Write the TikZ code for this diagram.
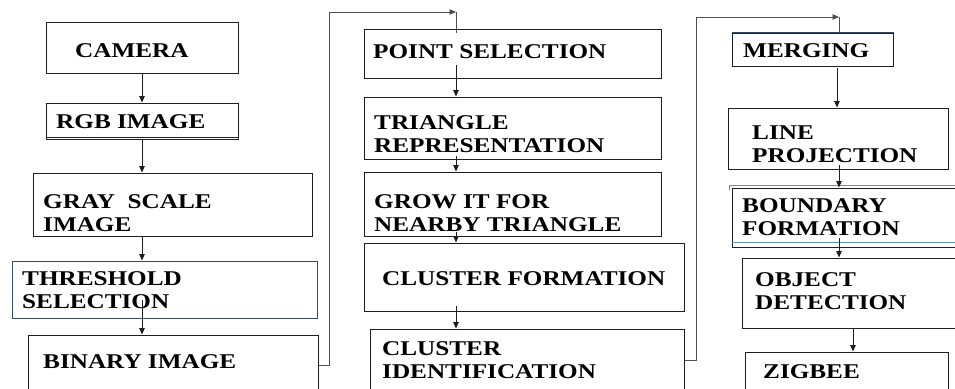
\documentclass[tikz,border=0pt]{standalone}
\usepackage{fontspec}
\setmainfont{Liberation Serif}[FakeStretch=1.2]
\usetikzlibrary{arrows.meta}
\definecolor{boxc}{RGB}{30,30,30}
\definecolor{loopc}{RGB}{80,80,80}
\definecolor{slate}{RGB}{55,75,105}
\definecolor{steel}{RGB}{100,140,190}
\tikzset{
  box/.style={draw=boxc, line width=1pt, rectangle, inner sep=0pt},
  lbl/.style={anchor=base west, inner sep=0pt, align=left, text=black,
              font=\fontsize{21}{23}\selectfont\bfseries},
  arr/.style={draw=boxc, line width=0.9pt, -{Triangle[length=6.5pt,width=5.5pt]}},
  loopline/.style={draw=loopc, line width=1pt},
}
\begin{document}
\begin{tikzpicture}[x=1pt,y=-1pt]
\useasboundingbox (0,0) rectangle (955,388);
% ---------- column 1 ----------
\node[box, minimum width=192pt, minimum height=51pt] (cam) at (142,47.5) {};
\node[box, minimum width=192pt, minimum height=36pt] (rgb) at (142,121) {};
\node[box, minimum width=279pt, minimum height=63pt] (gray) at (172.5,204.5) {};
\node[box, draw=slate, minimum width=305pt, minimum height=57pt] (thr) at (164.5,289.5) {};
\node[box, minimum width=290pt, minimum height=60pt] (bin) at (173,365) {};
\draw[boxc, line width=0.8pt] ([yshift=2.5pt]rgb.south west) -- ([yshift=2.5pt]rgb.south east);
\node[lbl] (tcam) at (75,57) {CAMERA};
\node[lbl] (trgb) at (56,128) {RGB IMAGE};
\node[lbl] (tgray) at (43,231) {GRAY\ \ SCALE\\IMAGE};
\node[lbl] (tthr) at (22,308) {THRESHOLD\\SELECTION};
\node[lbl] (tbin) at (43,368) {BINARY IMAGE};
\coordinate (a1) at (142,300);
\draw[arr] (cam.south) -- (rgb.north);
\draw[arr] (rgb.south) -- (rgb.south |- gray.north);
\draw[arr] (rgb.south |- gray.south) -- (rgb.south |- thr.north);
\draw[arr] (a1) -- (a1 |- bin.north);
% ---------- loop 1 ----------
\coordinate (k1) at (329,12);
\coordinate (k2) at (456,12);
\coordinate (k3) at (456,33);
\draw[loopline] (bin.east) -| (k1);
\draw[arr, draw=loopc] (k1) -- (k2);
\draw[loopline] (k2) -- (k3);
% ---------- column 2 ----------
\node[box, minimum width=297pt, minimum height=49pt] (pt) at (512.5,53.5) {};
\node[box, minimum width=297pt, minimum height=62pt] (tri) at (512.5,128) {};
\node[box, minimum width=297pt, minimum height=64pt] (grow) at (512.5,204) {};
\node[box, minimum width=320pt, minimum height=68pt] (cf) at (524,277) {};
\node[box, minimum width=314pt, minimum height=63pt] (ci) at (527,360.5) {};
\node[lbl] (tpt) at (373,58) {POINT SELECTION};
\node[lbl] (ttri) at (374,152) {TRIANGLE\\REPRESENTATION};
\node[lbl] (tgrow) at (374,231) {GROW IT FOR\\NEARBY TRIANGLE};
\node[lbl] (tcf) at (382,285) {CLUSTER FORMATION};
\node[lbl] (tci) at (382,378) {CLUSTER\\IDENTIFICATION};
\coordinate (b1) at (456,65);
\coordinate (b2) at (456,156);
\coordinate (b3) at (456,232);
\coordinate (b4) at (456,306);
\draw[arr] (b1) -- (b1 |- tri.north);
\draw[arr] (b2) -- (b2 |- grow.north);
\draw[arr] (b3) -- (b3 |- cf.north);
\draw[arr] (b4) -- (b4 |- ci.north);
% ---------- loop 2 ----------
\coordinate (m1) at (696,17);
\coordinate (m2) at (839,17);
\coordinate (m3) at (839,33);
\draw[loopline] (ci.east) -| (m1);
\draw[arr, draw=loopc] (m1) -- (m2);
\draw[loopline] (m2) -- (m3);
% ---------- column 3 ----------
\node[box, minimum width=161pt, minimum height=33pt] (mer) at (812.5,49.5) {};
\draw[slate, line width=1pt] (mer.north west) -- (mer.north east);
\node[box, minimum width=220pt, minimum height=61pt] (lp) at (838,138.5) {};
\node[box, minimum width=228pt, minimum height=59pt] (bf) at (846,217.5) {};
\draw[steel, line width=0.9pt] (729,185) -- (960,185) (729,185) -- (729,190);
\draw[steel, line width=0.9pt] (732,242) -- (960,242);
\node[box, minimum width=218pt, minimum height=70pt] (od) at (851,293) {};
\node[box, minimum width=203pt, minimum height=40pt] (zig) at (846.5,372) {};
\node[lbl] (tmer) at (743,57) {MERGING};
\node[lbl] (tlp) at (752,162) {LINE\\PROJECTION};
\node[lbl] (tbf) at (742,235) {BOUNDARY\\FORMATION};
\node[lbl] (tod) at (755,309) {OBJECT\\DETECTION};
\node[lbl] (tzig) at (763,378) {ZIGBEE};
\coordinate (c1) at (837,68);
\coordinate (c2) at (839,165);
\coordinate (c3) at (839,238);
\coordinate (c4) at (853,328);
\draw[arr] (c1) -- (c1 |- lp.north);
\draw[arr] (c2) -- (c2 |- bf.north);
\draw[arr] (c3) -- (c3 |- od.north);
\draw[arr] (c4) -- (c4 |- zig.north);
\end{tikzpicture}
\end{document}
